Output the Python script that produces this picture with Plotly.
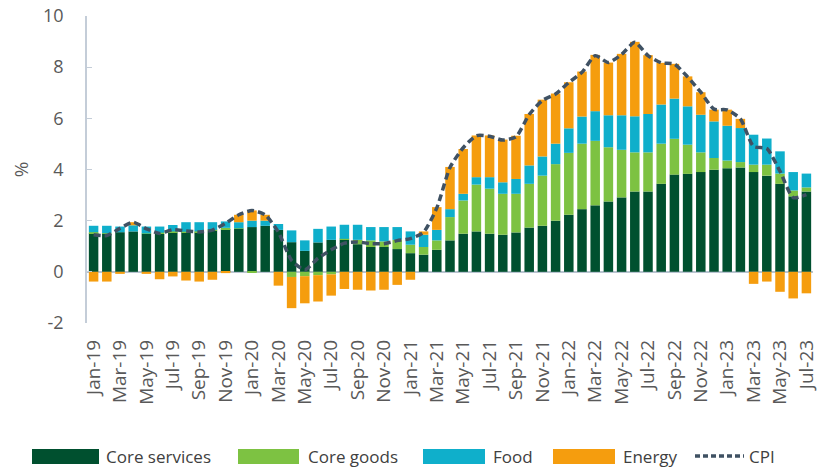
import plotly.graph_objects as go

months = ["Jan","Feb","Mar","Apr","May","Jun","Jul","Aug","Sep","Oct","Nov","Dec"]
categories = [f"{m}-{y}" for y in ["19","20","21","22","23"] for m in months][:55]

core_services = [1.51,1.49,1.55,1.58,1.48,1.48,1.54,1.54,1.54,1.62,1.67,1.68,
                 1.75,1.80,1.64,1.16,0.82,1.15,1.25,1.26,1.08,0.97,0.97,0.89,
                 0.73,0.67,0.86,1.23,1.49,1.58,1.49,1.45,1.54,1.73,1.80,2.00,
                 2.23,2.45,2.60,2.75,2.91,3.14,3.14,3.44,3.80,3.83,3.90,3.99,
                 4.05,4.08,3.90,3.76,3.44,2.95,3.14]
core_goods = [0.04,0.02,0.00,0.00,0.02,0.05,0.04,0.03,0.04,0.02,0.05,0.02,
              -0.03,0.00,0.00,-0.20,-0.17,-0.13,-0.10,0.03,0.17,0.26,0.22,0.36,
              0.33,0.30,0.37,0.91,1.30,1.83,1.76,1.60,1.51,1.71,1.96,2.21,
              2.42,2.56,2.52,2.12,1.86,1.53,1.53,1.57,1.40,1.14,0.77,0.46,
              0.30,0.21,0.29,0.43,0.40,0.23,0.16]
food = [0.25,0.29,0.22,0.24,0.27,0.24,0.25,0.37,0.36,0.30,0.25,0.24,
        0.25,0.20,0.23,0.46,0.41,0.53,0.52,0.55,0.59,0.52,0.56,0.50,
        0.52,0.48,0.41,0.31,0.26,0.29,0.45,0.45,0.58,0.72,0.75,0.80,
        0.96,1.06,1.16,1.25,1.35,1.41,1.50,1.53,1.57,1.50,1.47,1.43,
        1.36,1.33,1.17,1.02,0.87,0.72,0.54]
energy = [-0.38,-0.38,-0.08,0.12,-0.08,-0.29,-0.18,-0.34,-0.38,-0.31,-0.05,0.29,
          0.40,0.23,-0.54,-1.22,-1.06,-1.03,-0.83,-0.67,-0.70,-0.73,-0.70,-0.51,
          -0.31,0.13,0.89,1.65,1.75,1.63,1.63,1.67,1.69,2.01,2.22,1.96,
          1.80,1.76,2.20,2.06,2.40,2.91,2.30,1.63,1.36,1.17,0.88,0.46,
          0.63,0.36,-0.47,-0.38,-0.78,-1.04,-0.84]
cpi = [1.45,1.42,1.70,1.94,1.68,1.50,1.65,1.60,1.56,1.63,1.90,2.23,
       2.40,2.23,1.55,0.45,0.08,0.53,0.86,1.12,1.17,1.10,1.10,1.22,
       1.30,1.55,2.50,4.08,4.85,5.32,5.30,5.15,5.28,6.15,6.70,6.95,
       7.40,7.80,8.45,8.18,8.50,8.97,8.45,8.17,8.12,7.62,7.02,6.36,
       6.33,5.98,4.90,4.82,3.93,2.90,3.02]
tick_labels = categories[::2]
y_tick_vals = [-2, 0, 2, 4, 6, 8, 10]
y_tick_text = ["-2", "0", "2", "4", "6", "8", "10"]
series_names = ["Core services", "Core goods", "Food", "Energy", "CPI"]

colors = {"Core services": "#00502F", "Core goods": "#7DC242",
          "Food": "#0FAFCB", "Energy": "#F59D0E", "CPI": "#3F5163"}
CPI_DASH = "7px,4px"

fig = go.Figure()
for name, vals in zip(series_names[:4], [core_services, core_goods, food, energy]):
    fig.add_trace(go.Bar(x=categories, y=vals, name=name,
                         marker=dict(color=colors[name], line=dict(width=0))))
fig.add_trace(go.Scatter(x=categories, y=cpi, name="CPI", mode="lines",
                         line=dict(color=colors["CPI"], width=3.5, dash=CPI_DASH,
                                   shape="spline", smoothing=0.6)))

# manual legend (wide swatches like the original)
L, R, T, B = 87, 6, 16, 144
W, H = 819 - L - R, 467 - T - B
def px(x):
    return (x - L) / W
def py(y):
    return (467 - B - y) / H

leg_y = 456
swatches = [(32, 99, 104), (238, 299, 306), (423, 485, 491), (553, 615, 621)]
shapes, annotations = [], []
for name, (x0, x1, tx) in zip(series_names[:4], swatches):
    shapes.append(dict(type="rect", xref="paper", yref="paper",
                       x0=px(x0), x1=px(x1), y0=py(leg_y + 8), y1=py(leg_y - 7),
                       fillcolor=colors[name], line=dict(width=0)))
    annotations.append(dict(text=name, xref="paper", yref="paper", x=px(tx), y=py(leg_y),
                            xanchor="left", yanchor="middle", showarrow=False,
                            font=dict(size=17, color="#404040")))
shapes.append(dict(type="line", xref="paper", yref="paper", x0=px(695), x1=px(744),
                   y0=py(leg_y), y1=py(leg_y),
                   line=dict(color=colors["CPI"], width=3.5, dash="5px,3px")))
annotations.append(dict(text="CPI", xref="paper", yref="paper", x=px(747), y=py(leg_y),
                        xanchor="left", yanchor="middle", showarrow=False,
                        font=dict(size=17, color="#404040")))

font = "Open Sans, Noto Sans, sans-serif"
fig.update_layout(
    width=819, height=467,
    barmode="relative", bargap=0.28,
    plot_bgcolor="white", paper_bgcolor="white",
    margin=dict(l=L, r=R, t=T, b=B, autoexpand=False),
    font=dict(family=font, color="#595959"),
    showlegend=False,
    shapes=shapes, annotations=annotations,
    xaxis=dict(type="category", tickmode="array", tickvals=tick_labels,
               ticktext=tick_labels, tickangle=-90, tickfont=dict(size=19, color="#595959"),
               showline=False, showgrid=False, ticks="", ticklabelstandoff=12,
               automargin=False),
    yaxis=dict(range=[-2, 10], tickmode="array", tickvals=y_tick_vals, ticktext=y_tick_text,
               showgrid=False, zeroline=True,
               zerolinecolor="#B9C4D0", zerolinewidth=1.5,
               showline=True, linecolor="#C4CDD8", linewidth=1.5,
               ticks="inside", ticklen=5, tickcolor="#C4CDD8",
               tickfont=dict(size=18, color="#595959"), ticklabelstandoff=18,
               automargin=False,
               title=dict(text="%", font=dict(size=19, color="#595959"), standoff=9)),
)
fig.write_html("out.html", config={"displayModeBar": False},
               post_script="document.body.style.margin='0';document.body.style.padding='0';")
